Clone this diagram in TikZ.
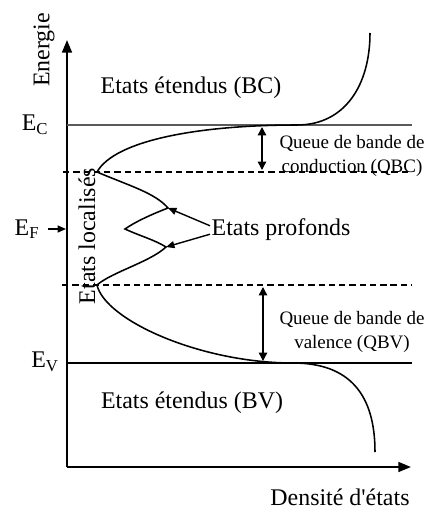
\documentclass[tikz,border=0pt]{standalone}
\usepackage{fontspec}
\setmainfont{Liberation Serif}
\usetikzlibrary{arrows.meta}
\definecolor{edgegray}{HTML}{5A5A5A}

\begin{document}
\begin{tikzpicture}[x=0.025cm,y=-0.025cm,
  axis/.style={line width=1.5pt,-{Triangle[length=9pt,width=7pt]}},
  dos/.style={line width=1.1pt},
  gapline/.style={line width=0.9pt,dash pattern=on 4.5pt off 2.8pt},
  span/.style={line width=1pt,{Triangle[length=6pt,width=6pt]}-{Triangle[length=6pt,width=6pt]}},
  ptr/.style={line width=1pt,-{Triangle[length=6pt,width=5pt]}},
  lbl/.style={font=\fontsize{17}{20}\selectfont,inner sep=1pt},
  small/.style={font=\fontsize{13.5}{16.5}\selectfont,align=center,inner sep=1pt}]
  \useasboundingbox (0,0) rectangle (430,511);

  \coordinate (O) at (67,467);
  \coordinate (ytip) at (67,40);
  \coordinate (xtip) at (411,467);
  \draw[axis] (O) -- (ytip);
  \draw[axis] (O) -- (xtip);

  \draw[edgegray,line width=1.8pt] (67,125) -- (412,125);
  \draw[line width=1.2pt] (67,363) -- (412,363);
  \draw[gapline] (63,172) -- (412,172);
  \draw[gapline] (62,285) -- (412,285);

  \coordinate (tailC) at (97,172);
  \coordinate (tailV) at (97,285);
  \coordinate (pkA) at (168,208);
  \coordinate (dip) at (125,229);
  \coordinate (pkB) at (166,247);
  \coordinate (edgeC) at (297,125);
  \coordinate (edgeV) at (293,363);
  \coordinate (topC) at (370,33);
  \coordinate (botV) at (375,452);

  \draw[dos] (topC) .. controls (370,85) and (345,125) .. (edgeC)
    .. controls (200,125) and (115,140) .. (tailC);
  \draw[dos] (tailC) .. controls (130,186) and (155,193) .. (pkA)
    .. controls (150,215) and (135,222) .. (dip)
    .. controls (140,236) and (155,240) .. (pkB)
    .. controls (150,262) and (112,272) .. (tailV);
  \draw[dos] (tailV) .. controls (105,320) and (200,363) .. (edgeV)
    .. controls (350,363) and (375,395) .. (botV);

  \node[lbl,rotate=90] (energie) at (44,50) {Energie};
  \node[lbl] (densite) at (340,497) {Densité d\textquotesingle états};
  \node[lbl] (ext-bc) at (191,88) {Etats étendus (BC)};
  \node[lbl] (ext-bv) at (192,403) {Etats étendus (BV)};
  \node[lbl,rotate=90] (loc) at (87,236) {Etats localisés};
  \node[lbl,anchor=west] (prof) at (210,230) {Etats profonds};

  \node[lbl] (Ec) at (35,125) {E\textsubscript{C}};
  \node[lbl] (EF) at (27,229) {E\textsubscript{F}};
  \node[lbl] (Ev) at (45,362) {E\textsubscript{V}};
  \coordinate (efAx) at (66,229);
  \draw[ptr] ([xshift=5pt]EF.east) -- (efAx);

  \draw[ptr] ([yshift=3pt]prof.west) -- (pkA);
  \draw[ptr] ([yshift=-3pt]prof.west) -- (pkB);

  \coordinate (qcTop) at (262,127);
  \coordinate (qcBot) at (262,170);
  \coordinate (qvTop) at (263,287);
  \coordinate (qvBot) at (263,361);
  \draw[span] (qcTop) -- (qcBot);
  \draw[span] (qvTop) -- (qvBot);

  \node[small] (qbc) at (352,156) {Queue de bande de\\conduction (QBC)};
  \node[small] (qbv) at (352,332) {Queue de bande de\\valence (QBV)};
\end{tikzpicture}
\end{document}
